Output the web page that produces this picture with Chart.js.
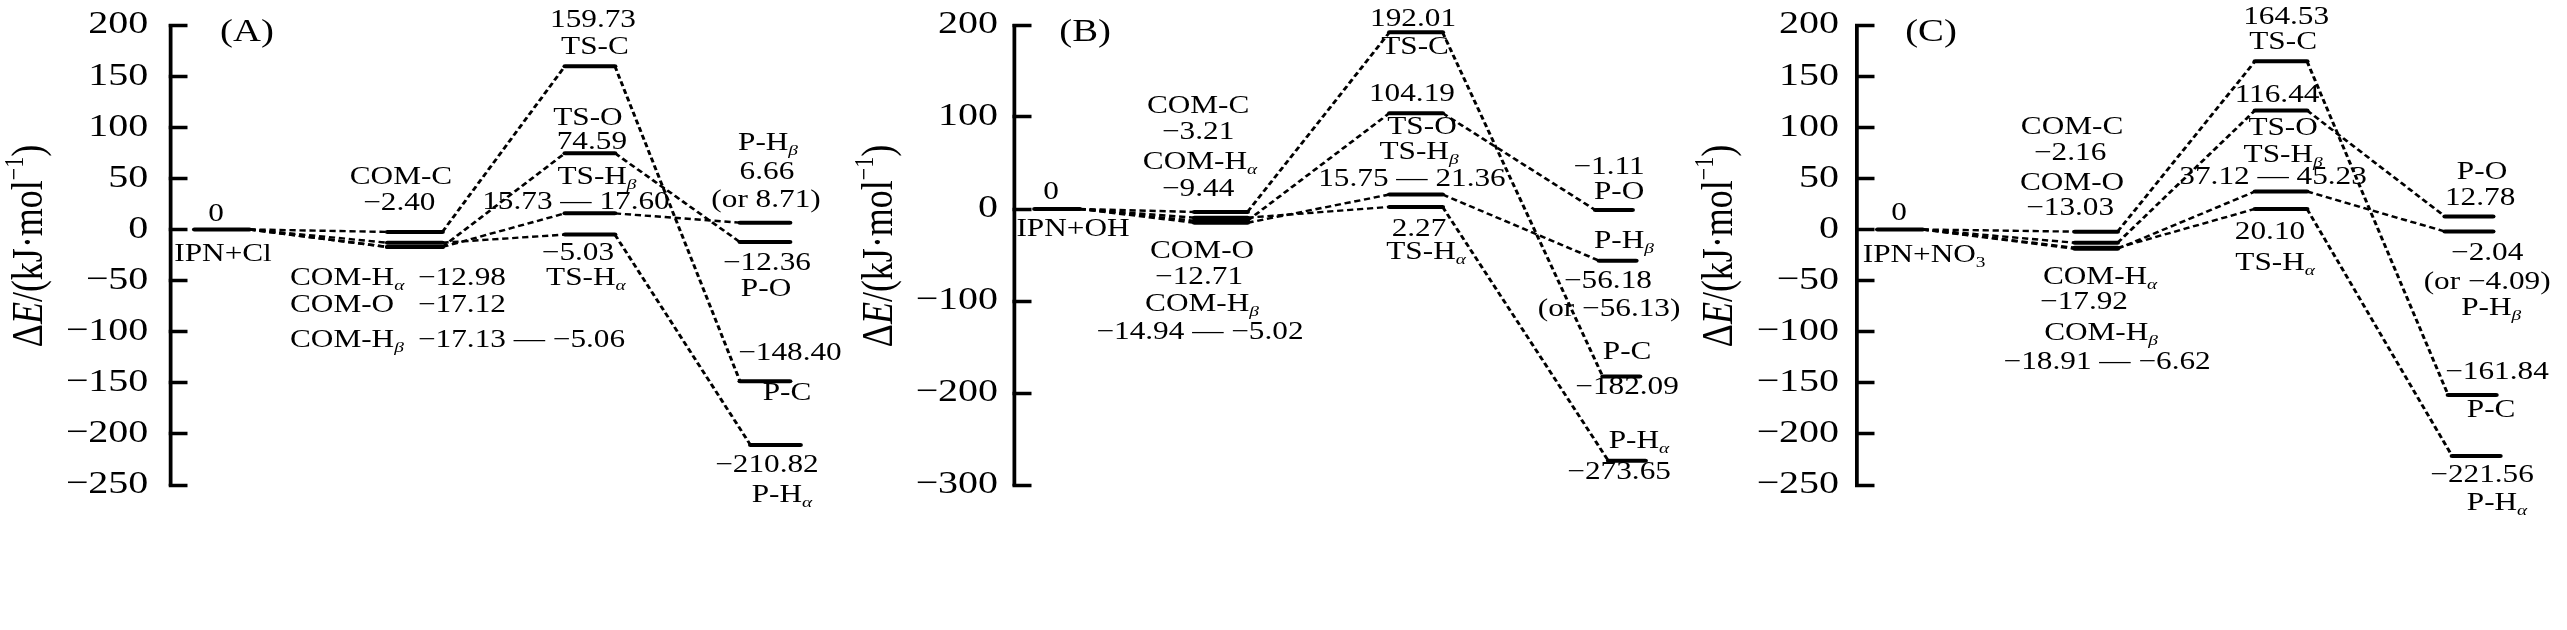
<!DOCTYPE html>
<html>
<head>
<meta charset="utf-8">
<script src="https://cdn.jsdelivr.net/npm/chart.js@4.4.1/dist/chart.umd.min.js"></script>
<style>
html, body { margin: 0; padding: 0; background: #fff; width: 2567px; height: 630px; overflow: hidden; }
canvas { position: absolute; top: 0; }
</style>
</head>
<body>
<canvas id="chartA" width="850" height="630" style="left:0px"></canvas>
<canvas id="chartB" width="840" height="630" style="left:850px"></canvas>
<canvas id="chartC" width="877" height="630" style="left:1690px"></canvas>
<script>
// ================================
// DATA (kJ/mol), one entry per channel
// ================================
const channels = ['C', 'O', 'Hβ', 'Hα'];
const reactant = 0;

// (A) IPN + Cl
const comCl  = [-2.40, -17.12, -17.13, -12.98];
const tsCl   = [159.73, 74.59, 15.73, -5.03];
const prodCl = [-148.40, -12.36, 6.66, -210.82];

// (B) IPN + OH
const comOH  = [-3.21, -12.71, -14.94, -9.44];
const tsOH   = [192.01, 104.19, 15.75, 2.27];
const prodOH = [-182.09, -1.11, -56.18, -273.65];

// (C) IPN + NO3
const comNO3  = [-2.16, -13.03, -18.91, -17.92];
const tsNO3   = [164.53, 116.44, 37.12, 20.10];
const prodNO3 = [-161.84, 12.78, -2.04, -221.56];

// y tick labels
const ticksCl  = [-250, -200, -150, -100, -50, 0, 50, 100, 150, 200];
const ticksOH  = [-300, -200, -100, 0, 100, 200];
const ticksNO3 = [-250, -200, -150, -100, -50, 0, 50, 100, 150, 200];

// ================================
// TEXT LABELS  [text, x (stage), y (kJ/mol), align, size]
// ================================
const notesCl = [
  ['(A)', 0.138, 192.1, 'c', 31],
  ['0', -0.033, 15.1], ['IPN+Cl', 0.006, -24.1],
  ['COM-C', 0.989, 51.3], ['−2.40', 0.98, 25.8],
  ['COM-H_α', 0.376, -47.5, 'l'], ['−12.98', 1.083, -47.5, 'l'],
  ['COM-O', 0.376, -74.0, 'l'], ['−17.12', 1.083, -74.0, 'l'],
  ['COM-H_β', 0.376, -108.2, 'l'], ['−17.13 — −5.06', 1.083, -108.2, 'l'],
  ['159.73', 2.05, 204.8], ['TS-C', 2.061, 178.4],
  ['TS-O', 2.022, 108.9], ['74.59', 2.044, 85.5],
  ['TS-H_β', 2.072, 51.3], ['15.73 — 17.60', 1.956, 26.8],
  ['−5.03', 1.967, -23.1], ['TS-H_α', 2.011, -47.5],
  ['P-H_β', 3.017, 84.4], ['6.66', 3.011, 56.1], ['(or 8.71)', 3.006, 28.8],
  ['−12.36', 3.011, -32.9], ['P-O', 3.006, -59.1],
  ['−148.40', 3.138, -120.9], ['P-C', 3.122, -160.1],
  ['−210.82', 3.011, -230.4], ['P-H_α', 3.094, -259.8]
];
const notesOH = [
  ['(B)', 0.151, 191.6, 'c', 31],
  ['0', -0.032, 17.7], ['IPN+OH', 0.086, -22.5],
  ['COM-C', 0.760, 111.2], ['−3.21', 0.760, 82.9],
  ['COM-H_α', 0.770, 50.3], ['−9.44', 0.760, 21.0],
  ['COM-O', 0.781, -46.4], ['−12.71', 0.765, -74.7],
  ['COM-H_β', 0.781, -104.0], ['−14.94 — −5.02', 0.770, -134.5],
  ['192.01', 1.918, 205.8], ['TS-C', 1.929, 175.3],
  ['104.19', 1.912, 124.2], ['TS-O', 1.966, 88.4],
  ['TS-H_β', 1.950, 61.2], ['15.75 — 21.36', 1.912, 31.8],
  ['2.27', 1.950, -22.5], ['TS-H_α', 1.988, -47.5],
  ['−1.11', 2.974, 44.9], ['P-O', 3.028, 17.7],
  ['P-H_β', 3.054, -35.5], ['−56.18', 2.968, -79.0], ['(or −56.13)', 2.974, -109.5],
  ['P-C', 3.071, -156.2], ['−182.09', 3.071, -194.2],
  ['P-H_α', 3.135, -252.9], ['−273.65', 3.028, -286.6]
];
const notesNO3 = [
  ['(C)', 0.163, 192.1, 'c', 31],
  ['0', -0.005, 16.0], ['IPN+NO_3', 0.127, -25.0],
  ['COM-C', 0.907, 100.2], ['−2.16', 0.897, 74.7],
  ['COM-O', 0.907, 45.4], ['−13.03', 0.897, 20.9],
  ['COM-H_α', 1.055, -46.6], ['−17.92', 0.970, -71.0],
  ['COM-H_β', 1.060, -101.4], ['−18.91 — −6.62', 1.092, -129.7],
  ['164.53', 2.036, 207.8], ['TS-C', 2.020, 183.4],
  ['116.44', 1.988, 131.5], ['TS-O', 2.020, 98.5],
  ['TS-H_β', 2.020, 72.0], ['37.12 — 45.23', 1.967, 51.3],
  ['20.10', 1.951, -2.5], ['TS-H_α', 1.978, -32.9],
  ['P-O', 3.069, 56.2], ['12.78', 3.059, 30.7],
  ['−2.04', 3.096, -23.1], ['(or −4.09)', 3.096, -51.5], ['P-H_β', 3.117, -76.9],
  ['−161.84', 3.148, -139.5], ['P-C', 3.117, -176.7],
  ['−221.56', 3.069, -240.3], ['P-H_α', 3.148, -267.7]
];

// ================================
// LAYOUT
// ================================
const SX = 1.25;              // the figure is stretched horizontally
const FONT = 'Liberation Serif';

const panels = [
  { id: 'chartA', com: comCl, ts: tsCl, prod: prodCl, ticks: ticksCl, notes: notesCl,
    axis: 136, tickPad: 31.4, xMin: -0.287, xMax: 3.47,
    slot: [0, 1.066, 2.033, 3], half: [0.152, 0.152, 0.138, 0.138], prodShift: [0, 0, 0, 0.058] },
  { id: 'chartB', com: comOH, ts: tsOH, prod: prodOH, ticks: ticksOH, notes: notesOH,
    axis: 131.2, tickPad: 26.8, xMin: -0.232, xMax: 3.41,
    slot: [0, 0.883, 1.934, 3], half: [0.121, 0.143, 0.143, 0.1], prodShift: [0.04, 0, 0.02, 0.07] },
  { id: 'chartC', com: comNO3, ts: tsNO3, prod: prodNO3, ticks: ticksNO3, notes: notesNO3,
    axis: 133.6, tickPad: 28.4, xMin: -0.227, xMax: 3.517,
    slot: [0, 1.034, 2.009, 3], half: [0.119, 0.113, 0.137, 0.127], prodShift: [0.017, 0, 0, 0.038] }
];

// ================================
// TEXT HELPERS
// ================================
function drawRich(ctx, str, x, y, size, align){
    const parts = [];
    for(let i = 0; i < str.length; i++){
        if(str[i] === '_'){ parts.push({ t: str[i + 1], sub: true }); i++; }
        else if(parts.length && !parts[parts.length - 1].sub) parts[parts.length - 1].t += str[i];
        else parts.push({ t: str[i], sub: false });
    }
    const font = p => p.sub
        ? (/[αβ]/.test(p.t) ? 'italic ' : '') + (size * 0.62) + 'px ' + FONT
        : size + 'px ' + FONT;
    let w = 0;
    parts.forEach(p => { ctx.font = font(p); p.w = ctx.measureText(p.t).width; w += p.w; });
    let cx = align === 'l' ? x : x - w / 2;
    ctx.textAlign = 'left';
    ctx.textBaseline = 'middle';
    parts.forEach(p => {
        ctx.font = font(p);
        ctx.fillText(p.t, cx, p.sub ? y + size * 0.3 : y);
        cx += p.w;
    });
}

// rotated axis title with italic E, centred on (x, y)
function drawTitle(ctx, x, y){
    const parts = [
        { t: 'Δ', f: '36px', dy: 0 }, { t: 'E', f: 'italic 36px', dy: 0 },
        { t: '/(kJ·mol', f: '36px', dy: 0 }, { t: '−1', f: '22px', dy: -11 },
        { t: ')', f: '36px', dy: 0 }
    ];
    let total = 0;
    parts.forEach(p => { ctx.font = p.f + ' ' + FONT; p.w = ctx.measureText(p.t).width; total += p.w; });
    ctx.save();
    ctx.translate(x, y);
    ctx.rotate(-Math.PI / 2);
    ctx.textAlign = 'left';
    ctx.textBaseline = 'middle';
    let cx = -total / 2;
    parts.forEach(p => {
        ctx.font = p.f + ' ' + FONT;
        ctx.fillText(p.t, cx, p.dy);
        cx += p.w;
    });
    ctx.restore();
}

// stretch everything horizontally, then add the labels
const stretchPlugin = {
    id: 'stretch',
    beforeDraw(chart){
        chart.ctx.save();
        chart.ctx.scale(SX, 1);
    },
    afterDraw(chart, args, opts){
        const ctx = chart.ctx;
        const xs = chart.scales.x, ys = chart.scales.y;
        ctx.fillStyle = '#000';
        opts.notes.forEach(n => {
            drawRich(ctx, n[0], xs.getPixelForValue(n[1]), ys.getPixelForValue(n[2]), n[4] || 25, n[3] || 'c');
        });
        drawTitle(ctx, 24, 246);
        ctx.restore();
    }
};

// ================================
// DATASETS
// ================================
const level = (x0, x1, y) => ({
    data: [{ x: x0, y }, { x: x1, y }],
    borderColor: '#000', borderWidth: 4, borderCapStyle: 'round',
    pointRadius: 0, fill: false
});
const link = (x0, y0, x1, y1) => ({
    data: [{ x: x0, y: y0 }, { x: x1, y: y1 }],
    borderColor: '#000', borderWidth: 2.4, borderDash: [5, 3],
    pointRadius: 0, fill: false
});

function buildSets(p){
    const levels = [], links = [];
    const r = [p.slot[0] - p.half[0], p.slot[0] + p.half[0]];
    levels.push(level(r[0], r[1], reactant));
    channels.forEach((c, k) => {
        const cx = [p.slot[1] - p.half[1], p.slot[1] + p.half[1]];
        const tx = [p.slot[2] - p.half[2], p.slot[2] + p.half[2]];
        const pc = p.slot[3] + p.prodShift[k];
        const px = [pc - p.half[3], pc + p.half[3]];
        levels.push(level(cx[0], cx[1], p.com[k]));
        levels.push(level(tx[0], tx[1], p.ts[k]));
        levels.push(level(px[0], px[1], p.prod[k]));
        links.push(link(r[1], reactant, cx[0], p.com[k]));
        links.push(link(cx[1], p.com[k], tx[0], p.ts[k]));
        links.push(link(tx[1], p.ts[k], px[0], p.prod[k]));
    });
    return levels.concat(links);
}

// ================================
// CHARTS
// ================================
panels.forEach(p => {
    const canvas = document.getElementById(p.id);
    const W = canvas.width;
    new Chart(canvas, {
        type: 'line',
        data: { datasets: buildSets(p) },
        plugins: [stretchPlugin],
        options: {
            responsive: false,
            animation: false,
            layout: { padding: { top: 25, bottom: 145, left: 0, right: W - W / SX } },
            scales: {
                x: { type: 'linear', display: false, min: p.xMin, max: p.xMax },
                y: {
                    min: p.ticks[0], max: p.ticks[p.ticks.length - 1],
                    afterBuildTicks: s => { s.ticks = p.ticks.map(v => ({ value: v })); },
                    afterFit: s => { s.width = p.axis; s.paddingTop = 0; s.paddingBottom = 0; },
                    border: { display: true, color: '#000', width: 3 },
                    grid: { drawOnChartArea: false, drawTicks: true, tickLength: -14, tickWidth: 3.5, tickColor: '#000' },
                    ticks: {
                        color: '#000', autoSkip: false, padding: p.tickPad,
                        font: { family: FONT, size: 32 },
                        callback: v => v < 0 ? '−' + (-v) : String(v)
                    }
                }
            },
            plugins: {
                legend: { display: false },
                tooltip: { enabled: false },
                stretch: { notes: p.notes }
            }
        }
    });
});
</script>
</body>
</html>
